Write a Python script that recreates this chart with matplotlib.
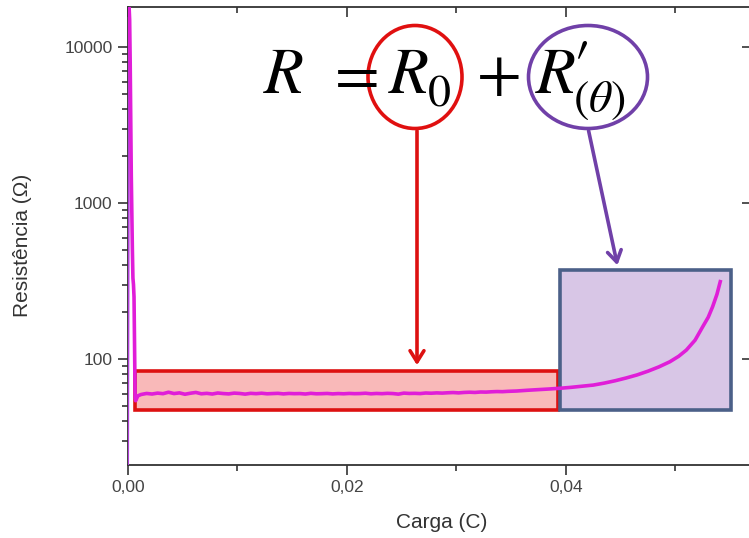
import numpy as np
import matplotlib.pyplot as plt
from matplotlib.patches import Rectangle, Ellipse
from matplotlib.ticker import FixedLocator, FixedFormatter, NullFormatter

plt.rcParams['font.family'] = ['Liberation Sans', 'DejaVu Sans']
plt.rcParams['mathtext.fontset'] = 'stix'

# Data: charge (C) vs resistance (Ohm)
# initial spike
q_spike = [0.0, 0.0001, 0.00015, 0.0002, 0.0003, 0.0004, 0.00045, 0.0005,
           0.00055, 0.0006, 0.00065, 0.0007, 0.0009]
r_spike = [20.5, 18000, 15000, 8000, 1500, 500, 330, 300,
           250, 120, 56, 54, 58]

# flat region (R0), small jitter as seen in the trace
q_flat = [0.0012, 0.0017, 0.0022, 0.0027, 0.0032, 0.0037, 0.0042, 0.0047,
          0.0052, 0.0057, 0.0062, 0.0067, 0.0072, 0.0077, 0.0082, 0.0087,
          0.0092, 0.0097, 0.0102, 0.0107, 0.0112, 0.0117, 0.0122, 0.0127,
          0.0132, 0.0137, 0.0142, 0.0147, 0.0152, 0.0157, 0.0162, 0.0167,
          0.0172, 0.0177, 0.0182, 0.0187, 0.0192, 0.0197, 0.0202, 0.0207,
          0.0212, 0.0217, 0.0222, 0.0227, 0.0232, 0.0237, 0.0242, 0.0247,
          0.0252, 0.0257, 0.0262, 0.0267, 0.0272, 0.0277, 0.0282, 0.0287,
          0.0292, 0.0297, 0.0302, 0.0307, 0.0312, 0.0317, 0.0322, 0.0327,
          0.0332, 0.0337, 0.0342, 0.0347]
r_flat = [59.2, 60.1, 59.6, 60.4, 59.9, 61.2, 60.0, 60.6,
          59.4, 60.3, 61.0, 59.8, 60.2, 59.6, 60.5, 60.0,
          59.7, 60.4, 60.1, 59.5, 60.2, 59.9, 60.3, 59.8,
          60.0, 60.2, 59.7, 60.1, 59.9, 60.0, 59.6, 60.2,
          59.8, 59.9, 60.1, 59.7, 60.0, 59.8, 60.1, 59.9,
          60.0, 60.3, 59.8, 60.1, 59.9, 60.2, 60.0, 59.5,
          60.4, 60.1, 60.2, 60.0, 60.5, 60.3, 60.6, 60.4,
          60.7, 60.9, 60.6, 61.0, 61.2, 61.0, 61.4, 61.3,
          61.6, 61.8, 61.7, 62.0]

# rising region R'(theta)
q_rise = [0.0355, 0.0365, 0.0375, 0.0385, 0.0395, 0.0405, 0.0415, 0.0425,
          0.0435, 0.0445, 0.0455, 0.0465, 0.0475, 0.0485, 0.0495, 0.0503,
          0.0510, 0.0518, 0.0525, 0.0530, 0.0534, 0.0538, 0.0541]
r_rise = [62.3, 63.0, 63.6, 64.2, 64.9, 65.8, 66.9, 68.0,
          70.0, 72.5, 75.5, 79.0, 83.5, 89.0, 96.0, 104,
          114, 132, 161, 185, 216, 260, 313]

q = q_spike + q_flat + q_rise
r = r_spike + r_flat + r_rise

# regions highlighted on the chart
r0_box = (0.00064, 0.0393, 47.1, 83.8)
rt_box = (0.0395, 0.0551, 47.1, 372)

W, H = 749, 538
fig = plt.figure(figsize=(W / 100, H / 100), dpi=100)
ax = fig.add_axes([128 / W, 1 - 465 / H, 624 / W, 458 / H])

def px(x, y):
    return (x / W, 1 - y / H)

ax.add_patch(Rectangle((r0_box[0], r0_box[2]), r0_box[1] - r0_box[0], r0_box[3] - r0_box[2],
                       facecolor='#f9b9b9', edgecolor='#dd1111', lw=2.6, zorder=1))
ax.add_patch(Rectangle((rt_box[0], rt_box[2]), rt_box[1] - rt_box[0], rt_box[3] - rt_box[2],
                       facecolor='#d8c6e6', edgecolor='#4b6088', lw=2.6, zorder=1))

ax.plot(q[:2], r[:2], color='#b040d8', lw=1.5, zorder=3)
ax.plot(q[1:], r[1:], color='#e01ed8', lw=2.6, zorder=3)

ax.set_yscale('log')
ax.set_xlim(0, 0.057)
ax.set_ylim(20.9, 18050)

ax.xaxis.set_major_locator(FixedLocator([0.0, 0.02, 0.04]))
ax.xaxis.set_major_formatter(FixedFormatter(['0,00', '0,02', '0,04']))
ax.xaxis.set_minor_locator(FixedLocator([0.01, 0.03, 0.05]))
ax.yaxis.set_major_locator(FixedLocator([100, 1000, 10000]))
ax.yaxis.set_major_formatter(FixedFormatter(['100', '1000', '10000']))
minors = [m * d for d in (10, 100, 1000) for m in range(2, 10)]
ax.yaxis.set_minor_locator(FixedLocator(minors))
ax.yaxis.set_minor_formatter(NullFormatter())

for s in ax.spines.values():
    s.set_color('#333333')
    s.set_linewidth(1.3)
ax.tick_params(which='both', direction='out', color='#333333', width=1.2,
               labelsize=12.5, labelcolor='#444444', pad=4)
ax.tick_params(which='major', length=7)
ax.tick_params(which='minor', length=4)
ax.tick_params(top=True, right=True, which='both')
# top and right ticks point inside
for t in ax.xaxis.get_ticklines(minor=False)[1::2] + ax.xaxis.get_ticklines(minor=True)[1::2]:
    t.set_marker(3)
for t in ax.yaxis.get_ticklines(minor=False)[1::2]:
    t.set_marker(0)
    t.set_color('#999999')
for t in ax.yaxis.get_ticklines(minor=True)[1::2]:
    t.set_visible(False)

ax.set_xlabel('Carga (C)', fontsize=15, color='#333333')
ax.set_ylabel('Resistência (Ω)', fontsize=15, color='#333333')
ax.xaxis.set_label_coords((442 - 128) / 624, -(513 - 465) / 458)
ax.yaxis.set_label_coords(-(128 - 32) / 624, (465 - 245) / 458)

# equation and annotations
eq_parts = [(263, 93, 47, r"$R$"), (325, 93, 47, r"$=$"), (388, 93, 47, r"$R$"),
            (427, 106, 33, r"$0$"), (476, 93, 47, r"$+$"), (535, 93, 47, r"$R$"),
            (572, 84, 47, r"$\prime$"), (573, 112, 33, r"$(\theta)$")]
for x0, y0, fs, s in eq_parts:
    fig.text(*px(x0, y0), s, fontsize=fs, color='black', ha='left', va='baseline')
fig.add_artist(Ellipse(px(415, 77), 94 / W, 103 / H, fill=False,
                       edgecolor='#e01010', lw=2.6, transform=fig.transFigure))
fig.add_artist(Ellipse(px(588, 77), 119 / W, 103 / H, fill=False,
                       edgecolor='#7040a8', lw=2.6, transform=fig.transFigure))
ax.annotate('', xy=px(417, 368), xytext=px(417, 128), xycoords='figure fraction',
            textcoords='figure fraction',
            arrowprops=dict(arrowstyle='->,head_length=0.8,head_width=0.5',
                            color='#dd1111', lw=2.6))
ax.annotate('', xy=px(618, 268), xytext=px(588, 128), xycoords='figure fraction',
            textcoords='figure fraction',
            arrowprops=dict(arrowstyle='->,head_length=0.8,head_width=0.5',
                            color='#7040a8', lw=2.6))

fig.savefig('out.png', dpi=100)
